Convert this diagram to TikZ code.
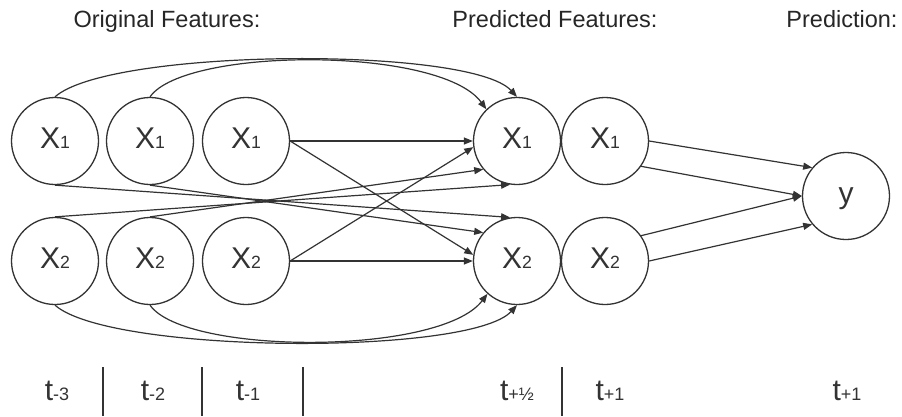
\documentclass[tikz,border=0pt]{standalone}
\usepackage{fontspec}
\setmainfont{Liberation Sans}
\usetikzlibrary{arrows.meta}
\definecolor{ink}{HTML}{333333}
% feature name with a small index set on the baseline
\newcommand{\featname}[1]{X{\fontsize{17.7}{18}\selectfont #1}}
\newcommand{\timename}[1]{t{\fontsize{18}{18}\selectfont #1}}

\begin{document}
\begin{tikzpicture}[x=1pt,y=-1pt,
  feat/.style={circle,draw=ink,line width=1.3pt,minimum size=87pt,inner sep=0pt,
    font=\fontsize{30}{36}\selectfont,text=ink,text height=21.5pt,text depth=7pt},
  link/.style={draw=ink,line width=1.2pt},
  arr/.style={link,-{Triangle[length=9pt,width=7pt]}},
  head/.style={font=\fontsize{23.5}{28}\selectfont,text=black!85,anchor=base,inner sep=0pt},
  stamp/.style={font=\fontsize{30}{36}\selectfont,text=ink,anchor=base,inner sep=0pt},
  divider/.style={draw=ink,line width=1.3pt}
]
\useasboundingbox (0,0) rectangle (902,416);
\fill[white] (0,0) rectangle (902,416);

% column headings
\node[head] (hOrig) at (167,27) {Original Features:};
\node[head] (hPred) at (555,27) {Predicted Features:};
\node[head] (hOut)  at (842,27) {Prediction:};

% original features at t-3, t-2, t-1
\node[feat] (a1) at (55,141)  {\featname{1}};
\node[feat] (a2) at (150,141) {\featname{1}};
\node[feat] (a3) at (246,141) {\featname{1}};
\node[feat] (b1) at (55,261)  {\featname{2}};
\node[feat] (b2) at (150,261) {\featname{2}};
\node[feat] (b3) at (246,261) {\featname{2}};

% predicted features
\node[feat] (p1) at (517,141) {\featname{1}};
\node[feat] (q1) at (605,141) {\featname{1}};
\node[feat] (p2) at (517,261) {\featname{2}};
\node[feat] (q2) at (605,261) {\featname{2}};

% prediction
\node[feat] (yy) at (846,196) {y};

% long arcs over the top and under the bottom
\draw[arr] (a1.north) .. controls (110,48) and (470,46) .. (p1.north);
\draw[arr] (a2.north) .. controls (185,47) and (440,46) .. (p1.134);
\draw[arr] (b1.south) .. controls (110,354) and (470,356) .. (p2.south);
\draw[arr] (b2.south) .. controls (185,355) and (440,356) .. (p2.228);

% crossing links between the rows
\draw[arr] (a1.south) -- (p2.99);
\draw[arr] (a2.south) -- (p2.140);
\draw[arr] (b1.north) -- (p1.261);
\draw[arr] (b2.north) -- (p1.220);

% links from t-1
\draw[arr] (a3.east) -- (p1.west);
\draw[arr] (a3.east) -- (p2.172);
\draw[arr] (b3.east) -- (p2.west);
\draw[arr] (b3.east) -- (p1.188);

% links into the prediction
\draw[arr] (q1.east) -- (yy.140);
\draw[arr] (q1.-35) -- (yy.west);
\draw[arr] (q2.35) -- (yy.west);
\draw[arr] (q2.east) -- (yy.220);

% time axis
\node[stamp] (t1) at (57,400)  {\timename{-3}};
\node[stamp] (t2) at (153,400) {\timename{-2}};
\node[stamp] (t3) at (248,400) {\timename{-1}};
\node[stamp] (t4) at (517,400) {\timename{+½}};
\node[stamp] (t5) at (610,400) {\timename{+1}};
\node[stamp] (t6) at (847,400) {\timename{+1}};
\draw[divider] (103,367) -- (103,416);
\draw[divider] (202,367) -- (202,416);
\draw[divider] (303,367) -- (303,416);
\draw[divider] (562,367) -- (562,416);
\end{tikzpicture}
\end{document}
